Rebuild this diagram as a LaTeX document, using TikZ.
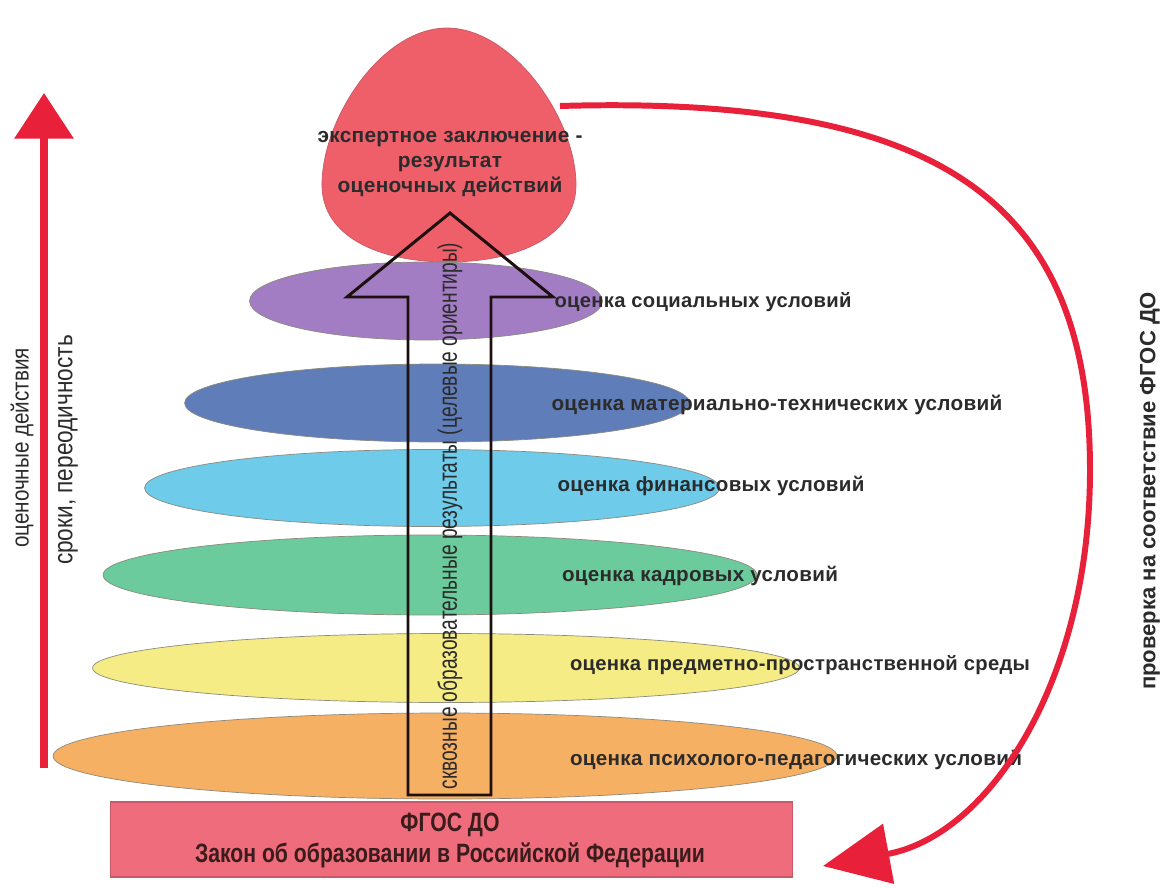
\documentclass[tikz,border=0pt]{standalone}
\usepackage{fontspec}
\setmainfont{Liberation Sans}
\newfontfamily\labfont[LetterSpace=1.5]{Liberation Sans}
\usetikzlibrary{shapes.geometric,arrows.meta}
\definecolor{cOrange}{HTML}{F6B064}
\definecolor{cYellow}{HTML}{F6EC86}
\definecolor{cGreen}{HTML}{6CCB9C}
\definecolor{cCyan}{HTML}{6FCBEA}
\definecolor{cBlue}{HTML}{5F7DB8}
\definecolor{cPurple}{HTML}{A37DC4}
\definecolor{cEgg}{HTML}{EF5F6A}
\definecolor{cRect}{HTML}{EE6C7B}
\definecolor{cRectLine}{HTML}{C85A68}
\definecolor{cRed}{HTML}{E8203A}
\definecolor{cLine}{HTML}{8C8A7C}
\definecolor{cTxt}{HTML}{2B2B2B}
\definecolor{cDark}{HTML}{1E1010}
\definecolor{cBaseTxt}{HTML}{3B1C1C}
\newcommand\fitw[2]{\resizebox{#1}{!}{#2}}
\begin{document}
\begin{tikzpicture}[x=0.02cm,y=-0.02cm,
  ell/.style={ellipse, draw=cLine, line width=0.4pt, inner sep=0},
  lab/.style={inner sep=0, text=cTxt, font=\labfont\bfseries},
  plain/.style={inner sep=0, text=cTxt},
  redarrow/.style={draw=cRed, fill=cRed}]
\useasboundingbox (0,0) rectangle (1174,889);
\fill[white] (0,0) rectangle (1174,889);

% ellipses (bottom to top)
\node[ell, fill=cOrange, minimum width=15.68cm, minimum height=1.72cm] (eOrange) at (445,756) {};
\node[ell, fill=cYellow, minimum width=14.14cm, minimum height=1.38cm] (eYellow) at (446,668) {};
\node[ell, fill=cGreen, minimum width=13.08cm, minimum height=1.6cm] (eGreen) at (430,575) {};
\node[ell, fill=cCyan, minimum width=11.5cm, minimum height=1.54cm] (eCyan) at (432,488) {};
\node[ell, fill=cBlue, minimum width=10.1cm, minimum height=1.56cm] (eBlue) at (437,403) {};

% egg
\path[fill=cEgg, draw=cRectLine, line width=0.4pt] (447,28) .. controls (382,28) and (322,118) .. (322,185) .. controls (322,236) and (378,262) .. (448,262) .. controls (518,262) and (576,236) .. (576,185) .. controls (576,118) and (512,28) .. (447,28);
\coordinate (eggE) at (560,106);

\node[ell, fill=cPurple, minimum width=7.06cm, minimum height=1.56cm] (ePurple) at (426,301) {};

% egg text
\node[lab] (eggtext) at (450,162) {\fitw{5.3cm}{\begin{tabular}{@{}c@{}}экспертное заключение -\\ результат\\ оценочных действий\end{tabular}}};

% labels
\node[lab] (lPurple) at (703,302) {\fitw{5.94cm}{оценка социальных условий}};
\node[lab] (lBlue) at (777,405) {\fitw{9.02cm}{оценка материально-технических условий}};
\node[lab] (lCyan) at (711,486) {\fitw{6.14cm}{оценка финансовых условий}};
\node[lab] (lGreen) at (700,576) {\fitw{5.52cm}{оценка кадровых условий}};
\node[lab] (lYellow) at (800,665) {\fitw{9.2cm}{оценка предметно-пространственной среды}};
\node[lab] (lOrange) at (796,760) {\fitw{9.04cm}{оценка психолого-педагогических условий}};

% base rectangle
\node[draw=cRectLine, fill=cRect, line width=0.6pt, minimum width=13.66cm, minimum height=1.5cm, inner sep=0] (base) at (451.5,839.5) {};
\node[inner sep=0, text=cBaseTxt, font=\bfseries] (baseText) at (450,841) {\fitw{10.2cm}{\scalebox{0.8}[1]{\renewcommand\arraystretch{0.95}\begin{tabular}{@{}c@{}}ФГОС ДО\\ Закон об образовании в Российской Федерации\end{tabular}}}};

% big outline arrow
\draw[cDark, line width=1.7pt, line join=miter] (408,795) -- (408,297) -- (347,297) -- (450,213) -- (553,297) -- (491,297) -- (491,795) -- cycle;
\node[plain, rotate=90] (shafttext) at (450,516) {\fitw{10.94cm}{\scalebox{0.72}[1]{сквозные образовательные результаты (целевые ориентиры)}}};

% left arrow
\coordinate (lb) at (44,768);
\coordinate (lt) at (44,93);
\draw[redarrow, line width=4pt, -{Triangle[length=26pt,width=33pt]}] (lb) -- (lt);
\node[plain, rotate=90] (lText1) at (22,448) {\fitw{4.0cm}{\scalebox{0.85}[1]{оценочные действия}}};
\node[plain, rotate=90] (lText2) at (68,450) {\fitw{4.6cm}{\scalebox{0.85}[1]{сроки, переодичность}}};

% right curved arrow
\coordinate (endpt) at (823,866);
\draw[redarrow, fill=none, line width=3.4pt, -{Triangle[length=38pt,width=34pt,fill=cRed]}] (eggE) .. controls (940,95) and (1090,200) .. (1090,470) .. controls (1090,680) and (990,835) .. (endpt);
\node[lab, font=\bfseries, rotate=90] (rText) at (1150,491) {\fitw{7.96cm}{проверка на соответствие ФГОС ДО}};
\end{tikzpicture}
\end{document}
